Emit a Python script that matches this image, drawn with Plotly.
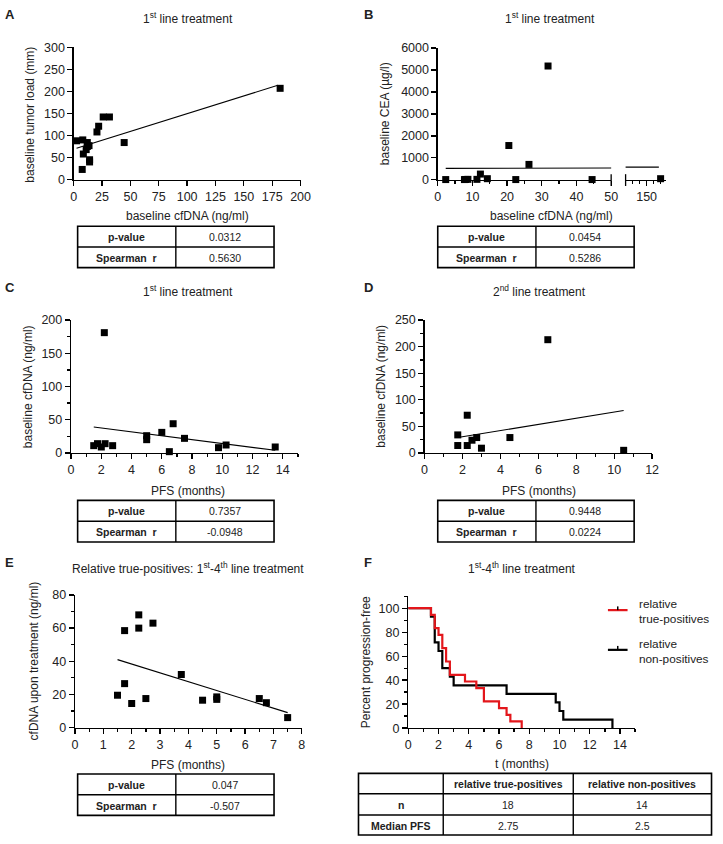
import plotly.graph_objects as go

W, H = 723, 844
FONT = "Liberation Sans, Arial, sans-serif"
TXT = "#222222"

# ---------------- data ----------------
# Panel A: baseline cfDNA vs baseline tumor load
a_cfdna = [2.5, 8, 8.5, 7.5, 12, 12, 11, 13.5, 14, 14, 20.5, 22, 26, 31.5, 44.5, 182]
a_tumor = [88, 90, 58, 23, 84, 75, 68, 77, 45, 40, 108, 121, 142, 142, 84, 207]
a_fit_x = [2.5, 180]
a_fit_y = [71, 214]

# Panel B: baseline cfDNA vs baseline CEA (broken x axis)
b_cfdna = [2.3, 7.7, 8.0, 8.7, 11.3, 12.3, 14.3, 20.5, 22.5, 26.3, 31.8, 44.5, 154]
b_cea = [10, 10, 15, 20, 20, 260, 50, 1560, 10, 700, 5180, 10, 50]
b_fit_x = [2.3, 153.5]
b_fit_y = [520, 578]

# Panel C: PFS vs baseline cfDNA, 1st line
c_pfs = [2.2, 1.5, 1.75, 2.0, 2.25, 2.75, 5.0, 5.0, 6.0, 6.75, 7.5, 9.75, 10.25, 13.5, 6.5]
c_cfdna = [181, 11, 14, 9, 14, 11, 26, 20, 31, 44, 22, 8, 12, 9, 2]
c_fit_x = [1.5, 13.5]
c_fit_y = [39, 4]

# Panel D: PFS vs baseline cfDNA, 2nd line
d_pfs = [6.5, 2.25, 1.75, 1.75, 2.25, 2.5, 2.75, 3.0, 4.5, 10.5]
d_cfdna = [213, 71, 34, 14, 14, 24, 29, 9, 29, 5]
d_fit_x = [1.75, 10.5]
d_fit_y = [29, 80]

# Panel E: PFS vs cfDNA upon treatment
e_pfs = [2.25, 2.75, 1.75, 2.25, 1.5, 1.75, 2.0, 2.5, 3.75, 4.5, 5.0, 5.0, 6.5, 6.75, 7.5]
e_cfdna = [68, 63, 58.5, 60, 19.5, 26.5, 14.5, 17.5, 32, 16.5, 18.5, 17, 17.5, 15, 6]
e_fit_x = [1.5, 7.5]
e_fit_y = [41, 9]

# Panel F: progression times (months), all events
f_true_pos = [1.5, 1.75, 1.75, 2.0, 2.25, 2.25, 2.5, 2.5, 2.75, 2.75, 3.75, 4.5,
              5.0, 5.0, 6.0, 6.5, 6.75, 7.5]
f_non_pos = [1.5, 1.75, 1.75, 1.75, 2.0, 2.25, 2.25, 2.75, 3.0, 6.5, 9.75, 10.0,
             10.25, 13.5]

# Tables
stat_labels = ["p-value", "Spearman  r"]
a_stats = ["0.0312", "0.5630"]
b_stats = ["0.0454", "0.5286"]
c_stats = ["0.7357", "-0.0948"]
d_stats = ["0.9448", "0.0224"]
e_stats = ["0.047", "-0.507"]
f_header = ["", "relative true-positives", "relative non-positives"]
f_row_labels = ["n", "Median PFS"]
f_n = ["18", "14"]
f_median = ["2.75", "2.5"]


# ---------------- helpers ----------------
def px(x):
    return x / W


def py(y):
    return 1 - y / H


def km(times):
    ts = sorted(set(times))
    xs, ys = [0], [100.0]
    s = 1.0
    for t in ts:
        d = sum(1 for v in times if v == t)
        n = sum(1 for v in times if v >= t)
        s *= (1 - d / n)
        xs.append(t)
        ys.append(s * 100)
    return xs, ys


def axis(dom, rng, anchor, dtick=None, minor=None, tickvals=None, y=False):
    d = dict(
        domain=[px(dom[0]), px(dom[1])] if not y else [py(dom[0]), py(dom[1])],
        range=rng, anchor=anchor, showline=True, linecolor="black", linewidth=1.3,
        ticks="outside", ticklen=5, tickwidth=1.3, tickcolor="black",
        showgrid=False, zeroline=False, fixedrange=True,
        tickfont=dict(size=12.5, color=TXT, family=FONT),
        exponentformat="none", separatethousands=False,
    )
    if tickvals is not None:
        d["tickmode"] = "array"
        d["tickvals"] = tickvals
    else:
        d["tick0"] = 0
        d["dtick"] = dtick
    if minor:
        d["minor"] = dict(ticks="outside", ticklen=3, tickwidth=1.3, tickcolor="black",
                          dtick=minor, tick0=0, showgrid=False)
    return d


fig = go.Figure()


def scatter(xs, ys, xa, ya):
    fig.add_trace(go.Scatter(x=xs, y=ys, mode="markers", xaxis=xa, yaxis=ya,
                             marker=dict(symbol="square", size=7, color="black"),
                             cliponaxis=False, showlegend=False, hoverinfo="skip"))


def fitline(xs, ys, xa, ya):
    fig.add_trace(go.Scatter(x=xs, y=ys, mode="lines", xaxis=xa, yaxis=ya,
                             line=dict(color="black", width=1.1),
                             showlegend=False, hoverinfo="skip"))


# Panel A
scatter(a_cfdna, a_tumor, "x", "y")
fitline(a_fit_x, a_fit_y, "x", "y")
# Panel B
bl = [(x, y) for x, y in zip(b_cfdna, b_cea) if x <= 50]
br = [(x, y) for x, y in zip(b_cfdna, b_cea) if x > 50]
scatter([p[0] for p in bl], [p[1] for p in bl], "x2", "y2")
scatter([p[0] for p in br], [p[1] for p in br], "x3", "y2")
fitline(b_fit_x, b_fit_y, "x2", "y2")
fitline(b_fit_x, b_fit_y, "x3", "y2")
# Panel C
scatter(c_pfs, c_cfdna, "x4", "y4")
fitline(c_fit_x, c_fit_y, "x4", "y4")
# Panel D
scatter(d_pfs, d_cfdna, "x5", "y5")
fitline(d_fit_x, d_fit_y, "x5", "y5")
# Panel E
scatter(e_pfs, e_cfdna, "x6", "y6")
fitline(e_fit_x, e_fit_y, "x6", "y6")
# Panel F: Kaplan-Meier
kx, ky = km(f_non_pos)
fig.add_trace(go.Scatter(x=kx, y=ky, mode="lines", line_shape="hv", xaxis="x7", yaxis="y7",
                         line=dict(color="black", width=2.2), showlegend=False, hoverinfo="skip"))
kx, ky = km(f_true_pos)
fig.add_trace(go.Scatter(x=kx, y=ky, mode="lines", line_shape="hv", xaxis="x7", yaxis="y7",
                         line=dict(color="#e3161b", width=2.2), showlegend=False, hoverinfo="skip"))

layout = dict(
    width=W, height=H, autosize=False, margin=dict(l=0, r=0, t=0, b=0),
    paper_bgcolor="white", plot_bgcolor="white",
    font=dict(family=FONT, color=TXT),
    xaxis=axis((72, 303), [0, 200], "y", dtick=25),
    yaxis=axis((175.5, 41), [0, 300], "x", dtick=50, y=True),
    xaxis2=axis((442.7, 619.3), [0, 50], "y2", dtick=10, minor=5),
    yaxis2=axis((175.7, 41.7), [0, 6000], "x2", dtick=1000, y=True),
    xaxis3=axis((634, 675), [144, 155.5], "y2", tickvals=[150], minor=2),
    xaxis4=axis((69.3, 300.3), [0, 15], "y4", dtick=2, minor=1),
    yaxis4=axis((453.5, 318.3), [0, 200], "x4", dtick=50, minor=25, y=True),
    xaxis5=axis((429.3, 661), [0, 12], "y5", dtick=2, minor=1),
    yaxis5=axis((453.5, 318.3), [0, 250], "x5", dtick=50, minor=25, y=True),
    xaxis6=axis((73.3, 304.3), [0, 8], "y6", dtick=1, minor=0.5),
    yaxis6=axis((732.7, 597.9), [0, 80], "x6", dtick=20, minor=10, y=True),
    xaxis7=axis((412.7, 643.7), [0, 15], "y7", dtick=2, minor=1),
    yaxis7=axis((733.3, 599.1), [0, 110], "x7", tickvals=[0, 20, 40, 60, 80, 100], minor=10, y=True),
)
fig.update_layout(**layout)

annotations = []
shapes = []


def ann(text, x, y, size=12, bold=False, xanchor="center", angle=0, yanchor="middle", align="center"):
    if bold:
        text = "<b>" + text + "</b>"
    annotations.append(dict(text=text, x=px(x), y=py(y), xref="paper", yref="paper",
                            showarrow=False, xanchor=xanchor, yanchor=yanchor, align=align,
                            textangle=angle, borderpad=0,
                            font=dict(size=size, color=TXT, family=FONT)))


def line(x0, y0, x1, y1, color="black", width=1.5):
    shapes.append(dict(type="line", xref="paper", yref="paper", x0=px(x0), y0=py(y0),
                       x1=px(x1), y1=py(y1), line=dict(color=color, width=width)))


def table(xe, ye, rows, size=10.5):
    shapes.append(dict(type="rect", xref="paper", yref="paper", x0=px(xe[0]), x1=px(xe[-1]),
                       y0=py(ye[0]), y1=py(ye[-1]), line=dict(color="black", width=1.6)))
    for x in xe[1:-1]:
        line(x, ye[0], x, ye[-1], width=1.4)
    for y in ye[1:-1]:
        line(xe[0], y, xe[-1], y, width=1.4)
    for r, row in enumerate(rows):
        for c, (txt, bold) in enumerate(row):
            if txt:
                ann(txt, (xe[c] + xe[c + 1]) / 2, (ye[r] + ye[r + 1]) / 2 + 0.5, size=size, bold=bold)


# Panel letters
for letter, x, y in [("A", 7, 8), ("B", 372, 8), ("C", 7, 285), ("D", 372, 285),
                     ("E", 7, 565), ("F", 372, 565)]:
    ann(letter, x, y, size=13, bold=True)

# Titles (superscripts raise the box, so centre a little lower)
ann("1<sup>st</sup> line treatment", 188, 11)
ann("1<sup>st</sup> line treatment", 557, 11.5)
ann("1<sup>st</sup> line treatment", 188, 289)
ann("2<sup>nd</sup> line treatment", 546, 289)
ann("Relative true-positives: 1<sup>st</sup>-4<sup>th</sup> line treatment", 188, 570)
ann("1<sup>st</sup>-4<sup>th</sup> line treatment", 529, 570)

# Axis titles
ann("baseline tumor load (mm)", 28, 109, angle=-90)
ann("baseline CEA (µg/l)", 389, 109, angle=-90)
ann("baseline cfDNA (ng/ml)", 25, 386, angle=-90)
ann("baseline cfDNA (ng/ml)", 385, 386, angle=-90)
ann("cfDNA upon treatment (ng/ml)", 32, 665, angle=-90)
ann("Percent progression-free", 370, 666, angle=-90)
ann("baseline cfDNA (ng/ml)", 188, 213)
ann("baseline cfDNA (ng/ml)", 559, 213)
ann("PFS (months)", 188, 492)
ann("PFS (months)", 546, 492)
ann("PFS (months)", 188, 771)
ann("t (months)", 528, 770)

# Axis break marks in B
line(619.3, 170, 619.3, 182, width=1.3)
line(634, 170, 634, 182, width=1.3)

# Legend of F
line(616, 613.3, 636, 613.3, color="#e3161b", width=2.2)
line(626, 609.5, 626, 613.3, color="black", width=1.5)
ann("relative<br>true-positives", 647, 615, size=11.8, xanchor="left", align="left")
line(616, 653.7, 636, 653.7, color="black", width=2.2)
line(626, 649.7, 626, 653.7, color="black", width=1.5)
ann("relative<br>non-positives", 647, 655.5, size=11.8, xanchor="left", align="left")

# Tables
def stats_rows(vals):
    return [[(stat_labels[i], True), (vals[i], False)] for i in range(2)]


table([76, 176, 276], [223, 244, 265], stats_rows(a_stats))
table([442.7, 542.7, 642.7], [223, 244, 265], stats_rows(b_stats))
table([76, 176, 276], [501.7, 523, 544], stats_rows(c_stats))
table([442.7, 542.7, 642.7], [501.7, 523, 544], stats_rows(d_stats))
table([76, 176, 276], [780, 801, 822], stats_rows(e_stats))
f_rows = [[(f_header[0], True), (f_header[1], True), (f_header[2], True)],
          [(f_row_labels[0], True), (f_n[0], False), (f_n[1], False)],
          [(f_row_labels[1], True), (f_median[0], False), (f_median[1], False)]]
table([362, 448.3, 580.7, 721.5], [779.3, 800, 821.7, 842], f_rows)

fig.update_layout(annotations=annotations, shapes=shapes)
fig.write_html("out.html", config={"displayModeBar": False, "staticPlot": True},
               post_script="document.body.style.margin='0';document.body.style.padding='0';"
                           "document.body.style.overflow='hidden';")
